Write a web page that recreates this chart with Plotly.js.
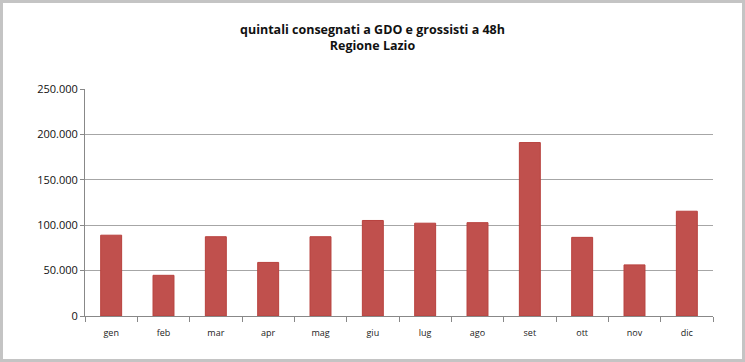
<!DOCTYPE html>
<html><head><meta charset="utf-8">
<script src="https://cdn.plot.ly/plotly-3.0.1.min.js"></script>
<style>
html,body{margin:0;padding:0;background:#fff;}
#chart{width:745px;height:362px;box-sizing:border-box;border:3px solid #c4c4c4;}
</style></head>
<body><div id="chart"></div>
<script>
const months = ['gen','feb','mar','apr','mag','giu','lug','ago','set','ott','nov','dic'];
const quintali = [89000, 44800, 87300, 59000, 87300, 105200, 102200, 102800, 191000, 86600, 56300, 115400];
const yTickVals = [0, 50000, 100000, 150000, 200000, 250000];
const yTickText = ['0', '50.000', '100.000', '150.000', '200.000', '250.000'];

const trace = {
  type: 'bar', x: months, y: quintali,
  width: 0.4,
  marker: {color: '#c0504d', line: {color: '#b8403d', width: 1}},
  hoverinfo: 'x+y'
};
const layout = {
  width: 739, height: 356,
  margin: {l: 82, r: 29, t: 86, b: 43},
  paper_bgcolor: '#fff', plot_bgcolor: '#fff',
  showlegend: false,
  title: {
    text: 'quintali consegnati a GDO e grossisti a 48h<br>Regione Lazio',
    font: {family: 'Open Sans, sans-serif', size: 12.5, color: '#111', weight: 'bold'},
    x: 0.5, xanchor: 'center', y: 0.913, yanchor: 'top'
  },
  xaxis: {
    type: 'category', tickson: 'boundaries', ticks: 'outside', ticklen: 5, tickcolor: '#888',
    showline: true, linecolor: '#888', linewidth: 1, showgrid: false,
    ticklabelstandoff: 8,
    tickfont: {family: 'Open Sans, sans-serif', size: 9, color: '#222'},
    range: [-0.5, 11.5]
  },
  yaxis: {
    range: [0, 250000], tickvals: yTickVals, ticktext: yTickText,
    ticks: 'outside', ticklen: 4, tickcolor: '#888',
    showline: true, linecolor: '#888', linewidth: 1,
    showgrid: true, gridcolor: '#a6a6a6', gridwidth: 1,
    zeroline: false,
    tickfont: {family: 'Open Sans, sans-serif', size: 11, color: '#111'}
  },
  bargap: 0.6
};
Plotly.newPlot('chart', [trace], layout, {displayModeBar: false, staticPlot: true});
</script></body></html>
